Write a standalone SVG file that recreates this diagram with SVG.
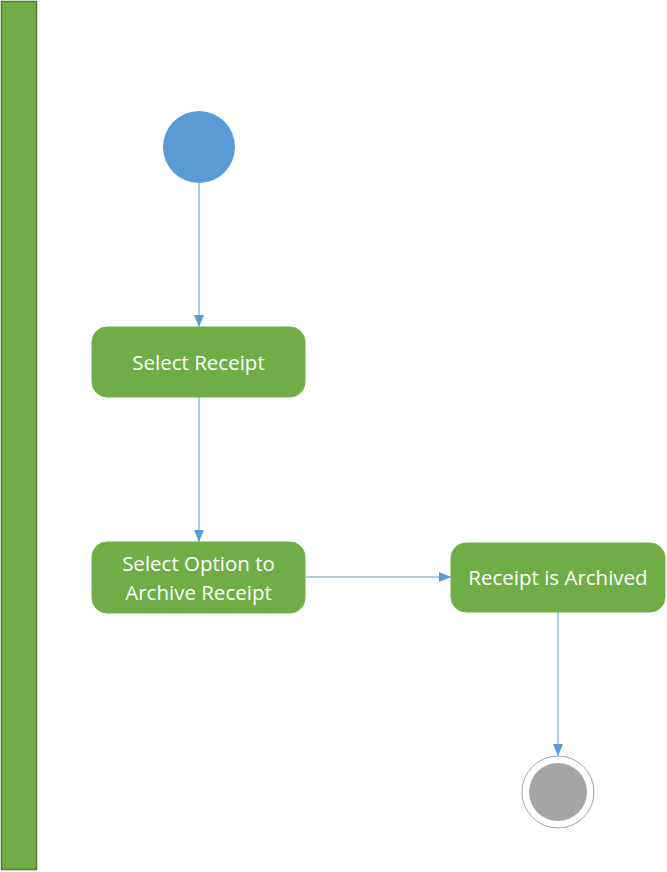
<svg xmlns="http://www.w3.org/2000/svg" width="667" height="872" viewBox="0 0 667 872">
<style>
.act{fill:#70AD47;stroke:#70AD47;stroke-width:1}
.lbl{font-family:"Open Sans","Liberation Sans",sans-serif;font-size:20.5px;fill:#FFFFFF;text-anchor:middle}
.conn{stroke:#5B9BD5;stroke-width:1;fill:none}
</style>
<defs>
<marker id="arr" markerWidth="12" markerHeight="10" refX="12" refY="5" orient="auto" markerUnits="userSpaceOnUse">
<path d="M0,0 L12,5 L0,10 Z" fill="#5B9BD5"/>
</marker>
</defs>
<rect width="667" height="872" fill="#FFFFFF"/>
<g id="swimlane">
<rect x="1.5" y="1.5" width="35" height="868" fill="#70AD47" stroke="#507E32" stroke-width="1.5"/>
</g>
<g id="start">
<circle cx="199" cy="147" r="36" fill="#5B9BD5"/>
</g>
<g id="select-receipt">
<rect class="act" x="92" y="327" width="213" height="70" rx="15"/>
<text class="lbl" x="198.5" y="370">Select Receipt</text>
</g>
<g id="select-option">
<rect class="act" x="92" y="542" width="213" height="71" rx="15"/>
<text class="lbl" x="198.5" y="571">Select Option to</text>
<text class="lbl" x="198.5" y="600">Archive Receipt</text>
</g>
<g id="archived">
<rect class="act" x="451" y="543" width="214" height="69" rx="15"/>
<text class="lbl" x="558" y="585">Receipt is Archived</text>
</g>
<g id="end">
<circle cx="558" cy="792" r="36" fill="#FFFFFF" stroke="#A5A5A5" stroke-width="1"/>
<circle cx="558" cy="792" r="29" fill="#A5A5A5"/>
</g>
<g id="connectors">
<line class="conn" x1="199" y1="183" x2="199" y2="327" marker-end="url(#arr)"/>
<line class="conn" x1="199" y1="397" x2="199" y2="542" marker-end="url(#arr)"/>
<line class="conn" x1="305" y1="577" x2="451" y2="577" marker-end="url(#arr)"/>
<line class="conn" x1="558" y1="612" x2="558" y2="756" marker-end="url(#arr)"/>
</g>
</svg>
